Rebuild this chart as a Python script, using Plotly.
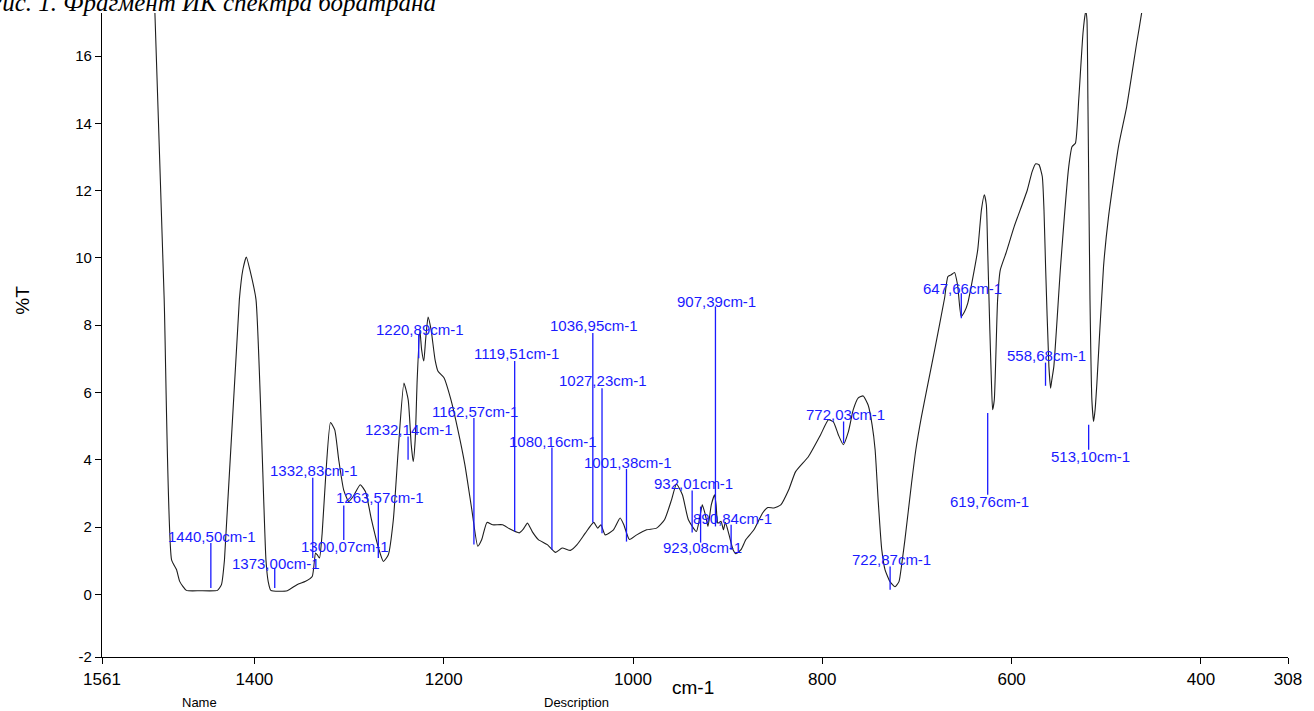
import plotly.graph_objects as go

# ---------------- data ----------------
WAVENUMBER = [1506.5, 1505.1, 1495.3, 1487.5, 1482.3, 1478.8, 1471.8, 1457.8, 1439.0, 1434.8,
              1431.6, 1415.9, 1412.2, 1408.5, 1404.8, 1398.3, 1387.8, 1385.4, 1382.6, 1365.2,
              1355.0, 1345.9, 1338.9, 1335.4, 1333.7, 1331.2, 1328.4, 1324.9, 1319.6, 1315.1,
              1310.9, 1305.7, 1300.4, 1295.2, 1288.2, 1282.6, 1276.3, 1269.0, 1263.7, 1258.5,
              1253.2, 1248.0, 1242.0, 1237.5, 1234.3, 1232.2, 1230.1, 1228.0, 1225.2, 1223.3,
              1221.0, 1219.1, 1216.5, 1213.3, 1209.1, 1206.0, 1199.7, 1192.3, 1185.0, 1177.6,
              1170.3, 1164.0, 1159.8, 1154.3, 1148.3, 1137.8, 1130.4, 1120.2, 1115.7, 1111.5,
              1106.3, 1100.0, 1090.5, 1081.8, 1074.8, 1066.1, 1059.1, 1050.4, 1041.5, 1037.3,
              1033.9, 1029.4, 1020.6, 1013.6, 1009.7, 1003.8, 996.1, 985.6, 975.1, 966.7,
              959.3, 954.1, 947.8, 941.5, 933.1, 929.9, 926.8, 923.6, 920.8, 917.3,
              913.8, 912.2, 910.4, 906.9, 904.5, 902.4, 898.5, 894.3, 891.2, 885.9,
              880.7, 872.3, 863.1, 857.6, 851.0, 843.9, 835.5, 828.2, 814.6, 801.9,
              793.5, 788.3, 783.0, 777.8, 772.5, 767.3, 762.0, 756.8, 751.6, 747.4,
              744.2, 741.0, 737.2, 733.7, 728.5, 723.2, 719.0, 716.2, 712.7, 705.7,
              701.2, 695.2, 689.7, 681.3, 670.8, 667.3, 663.8, 660.3, 657.1, 653.3,
              649.8, 646.3, 641.4, 635.8, 631.9, 628.8, 626.7, 625.3, 623.0, 621.4,
              620.1, 618.3, 614.8, 612.0, 606.0, 597.3, 583.4, 578.4, 574.5, 571.1,
              567.6, 565.8, 564.1, 560.6, 558.8, 557.5, 555.4, 548.3, 539.6, 536.1,
              532.6, 529.1, 524.6, 522.1, 521.5, 520.4, 519.4, 517.2, 515.2, 513.4,
              511.8, 509.9, 502.9, 497.6, 487.1, 478.4, 467.9, 462.7, 460.9]
TRANSMITTANCE = [18.55, 17.28, 8.76, 1.03, 0.74, 0.38, 0.12, 0.11, 0.12, 0.29,
                 1.03, 8.76, 9.65, 10.03, 9.65, 8.76, 1.03, 0.38, 0.12, 0.11,
                 0.29, 0.39, 0.53, 1.23, 1.18, 1.08, 1.82, 3.41, 5.11, 4.89,
                 4.00, 3.11, 2.76, 2.93, 3.26, 3.05, 2.22, 1.39, 0.98, 1.18,
                 2.22, 4.30, 6.28, 5.78, 4.45, 3.95, 4.60, 6.38, 7.86, 7.27,
                 6.94, 7.57, 8.24, 7.86, 6.97, 6.63, 6.44, 5.78, 4.89, 3.85,
                 2.52, 1.43, 1.63, 2.14, 2.07, 2.07, 1.95, 1.83, 1.95, 2.12,
                 1.86, 1.63, 1.48, 1.25, 1.38, 1.31, 1.48, 1.82, 2.14, 1.97,
                 2.07, 1.77, 1.92, 2.27, 2.07, 1.63, 1.77, 1.92, 1.97, 2.22,
                 2.81, 3.28, 2.96, 2.22, 1.87, 2.22, 2.66, 2.37, 2.02, 2.66,
                 2.96, 2.66, 2.12, 2.17, 1.92, 2.14, 1.77, 1.33, 1.21, 1.33,
                 1.63, 1.92, 2.42, 2.58, 2.57, 2.66, 3.11, 3.65, 4.10, 4.74,
                 5.19, 5.13, 4.74, 4.45, 4.83, 5.49, 5.84, 5.90, 5.63, 5.04,
                 4.30, 2.81, 1.33, 0.73, 0.38, 0.23, 0.38, 0.88, 1.63, 3.31,
                 4.30, 5.29, 6.08, 7.27, 8.81, 9.45, 9.50, 9.57, 9.20, 8.26,
                 8.40, 8.66, 9.35, 10.24, 11.43, 11.88, 11.58, 10.24, 7.86, 6.38,
                 5.49, 5.78, 8.76, 9.64, 10.14, 10.93, 12.02, 12.56, 12.80, 12.77,
                 12.42, 11.43, 9.74, 6.77, 6.13, 6.38, 6.77, 9.74, 12.72, 13.31,
                 13.41, 14.70, 16.68, 17.27, 17.32, 17.07, 14.70, 8.76, 5.78, 5.14,
                 5.49, 6.28, 9.74, 11.23, 13.31, 14.50, 16.38, 17.27, 17.67]

PEAK_WN = [1440.50, 1373.00, 1332.83, 1300.07, 1263.57, 1232.14, 1220.89, 1162.57,
           1119.51, 1080.16, 1036.95, 1027.23, 1001.38, 932.01, 923.08, 907.39,
           890.84, 772.03, 722.87, 647.66, 619.76, 558.68, 513.10]
PEAK_LABELS = [f"{w:.2f}".replace(".", ",") + "cm-1" for w in PEAK_WN]

X_TICKS = [1561, 1400, 1200, 1000, 800, 600, 400, 308]
Y_TICKS = [-1.86, 0, 2, 4, 6, 8, 10, 12, 14, 16]
Y_TICK_TEXT = ["-2", "0", "2", "4", "6", "8", "10", "12", "14", "16"]

# ---------------- label layout (positions, in data units) ----------------
LABEL_TEXT_T = [1.72, 0.93, 3.68, 1.43, 2.88, 4.89, 7.88, 5.43, 7.15, 4.55, 7.98, 6.35,
                3.93, 3.29, 1.38, 8.70, 2.27, 5.34, 1.03, 9.10, 2.76, 7.10, 4.10]
LABEL_LINE_T0 = [1.53, 0.78, 3.47, 1.62, 2.72, 4.69, 7.72, 5.24, 6.94, 4.37, 7.77, 6.13,
                 3.73, 3.09, 1.54, 8.56, 2.07, 5.14, 0.83, 8.95, 2.96, 6.89, 4.30]
LABEL_LINE_T1 = [0.19, 0.19, 1.08, 2.64, 1.08, 4.00, 7.02, 1.48, 1.87, 1.33, 2.14, 1.82,
                 1.57, 1.84, 2.61, 2.02, 1.33, 4.50, 0.14, 8.21, 5.39, 6.20, 5.04]
TEXT_SHIFT = 4.0
LINE_SHIFT = 5.5

X_RANGE = [1561, 308]
Y_RANGE = [-1.86, 17.28]

BLUE = "#1a1aff"
FONT = "Liberation Sans, Arial, sans-serif"

fig = go.Figure()

fig.add_trace(go.Scatter(
    x=WAVENUMBER, y=TRANSMITTANCE, mode="lines",
    line=dict(color="#1e1e1e", width=1.1, shape="spline", smoothing=0.5),
    hoverinfo="skip", showlegend=False,
))

lx, ly = [], []
for w, t0, t1 in zip(PEAK_WN, LABEL_LINE_T0, LABEL_LINE_T1):
    lx += [w + LINE_SHIFT, w + LINE_SHIFT, None]
    ly += [t0, t1, None]
fig.add_trace(go.Scatter(
    x=lx, y=ly, mode="lines", line=dict(color=BLUE, width=1.3),
    hoverinfo="skip", showlegend=False,
))

for w, lab, t in zip(PEAK_WN, PEAK_LABELS, LABEL_TEXT_T):
    fig.add_annotation(x=w + TEXT_SHIFT, y=t, xref="x", yref="y", text=lab,
                       showarrow=False, xanchor="center", yanchor="middle",
                       font=dict(family=FONT, size=15, color=BLUE))

# axis titles and footer text
fig.add_annotation(x=0.498, y=-0.048, xref="paper", yref="paper", text="cm-1",
                   showarrow=False, xanchor="center", yanchor="middle",
                   font=dict(family=FONT, size=19, color="black"))
fig.add_annotation(x=-0.067, y=0.554, xref="paper", yref="paper", text="%T",
                   textangle=-90, showarrow=False, xanchor="center", yanchor="middle",
                   font=dict(family=FONT, size=19, color="black"))
fig.add_annotation(x=0.082, y=-0.0714, xref="paper", yref="paper", text="Name",
                   showarrow=False, xanchor="center", yanchor="middle",
                   font=dict(family=FONT, size=13, color="black"))
fig.add_annotation(x=0.4003, y=-0.0714, xref="paper", yref="paper", text="Description",
                   showarrow=False, xanchor="center", yanchor="middle",
                   font=dict(family=FONT, size=13, color="black"))
fig.add_annotation(x=0.283, y=1.0156, xref="paper", yref="paper",
                   text="<i>Рис. 1. Фрагмент ИК спектра боратрана</i>",
                   showarrow=False, xanchor="right", yanchor="middle",
                   font=dict(family="Liberation Serif, DejaVu Serif, serif", size=25, color="black"))

fig.update_xaxes(range=X_RANGE, tickvals=X_TICKS, ticktext=[str(v) for v in X_TICKS],
                 showgrid=False, zeroline=False, showline=True, linecolor="black", linewidth=1.3,
                 ticks="outside", ticklen=6, tickcolor="black", tickwidth=1.2,
                 tickfont=dict(family=FONT, size=17, color="black"))
fig.update_yaxes(range=Y_RANGE, tickvals=Y_TICKS, ticktext=Y_TICK_TEXT,
                 showgrid=False, zeroline=False, showline=True, linecolor="black", linewidth=1.3,
                 ticks="outside", ticklen=6, tickcolor="black", tickwidth=1.2,
                 tickfont=dict(family=FONT, size=15, color="black"))

fig.update_layout(
    width=1314, height=711,
    margin=dict(l=102, r=18, t=13, b=54),
    paper_bgcolor="white", plot_bgcolor="white",
    showlegend=False,
)

fig.write_html("out.html", config={"displayModeBar": False},
               post_script="document.body.style.margin='0';")
